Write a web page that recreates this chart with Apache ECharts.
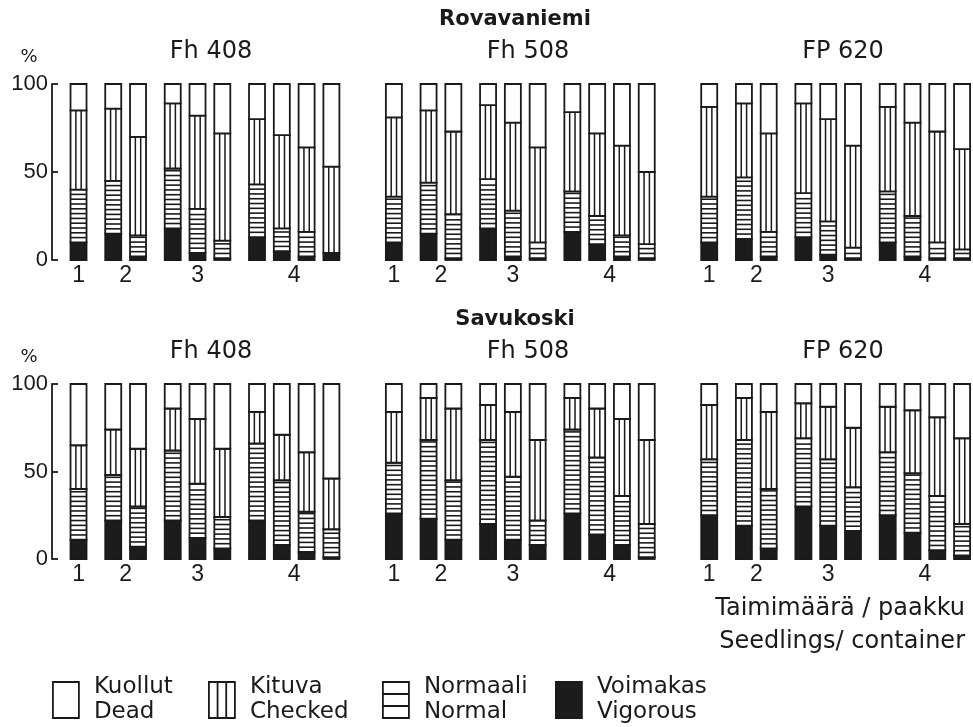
<!DOCTYPE html>
<html>
<head>
<meta charset="utf-8">
<script src="https://cdn.jsdelivr.net/npm/echarts@6/dist/echarts.min.js"></script>
<style>
  html, body { margin: 0; padding: 0; background: #fff; }
  #chart { width: 973px; height: 727px; }
</style>
</head>
<body>
<div id="chart"></div>
<script>
// Sites (one panel row each) and provenances (one bar group each)
const sites = ['Rovavaniemi', 'Savukoski'];
const provenances = ['Fh 408', 'Fh 508', 'FP 620'];
// Seedlings per container: a container with k seedlings gets k bars
const seedlingsPerContainer = ['1', '2', '3', '4'];
const yTicks = [0, 50, 100];

// Seedling condition classes, bottom to top of each bar
const classFi = ['Voimakas', 'Normaali', 'Kituva', 'Kuollut'];
const classEn = ['Vigorous', 'Normal', 'Checked', 'Dead'];

// Share of seedlings (%), bars in order Fh 408 | Fh 508 | FP 620, each 1,2,2,3,3,3,4,4,4,4
const rovaVigorous = [10, 15, 2, 18, 4, 1, 13, 5, 2, 4,   10, 15, 1, 18, 2, 1, 16, 9, 2, 1,   10, 12, 2, 13, 3, 1, 10, 2, 1, 1];
const rovaNormal   = [30, 30, 12, 34, 25, 10, 30, 13, 14, 0,   26, 29, 25, 28, 26, 9, 23, 16, 12, 8,   26, 35, 14, 25, 19, 6, 29, 23, 9, 5];
const rovaChecked  = [45, 41, 56, 37, 53, 61, 37, 53, 48, 49,   45, 41, 47, 42, 50, 54, 45, 47, 51, 41,   51, 42, 56, 51, 58, 58, 48, 53, 63, 57];
const rovaDead     = [15, 14, 30, 11, 18, 28, 20, 29, 36, 47,   19, 15, 27, 12, 22, 36, 16, 28, 35, 50,   13, 11, 28, 11, 20, 35, 13, 22, 27, 37];

const savuVigorous = [11, 22, 7, 22, 12, 6, 22, 8, 4, 1,   26, 23, 11, 20, 11, 8, 26, 14, 8, 1,   25, 19, 6, 30, 19, 16, 25, 15, 5, 2];
const savuNormal   = [29, 26, 23, 40, 31, 18, 44, 37, 23, 16,   29, 45, 34, 48, 36, 14, 48, 44, 28, 19,   32, 49, 34, 39, 38, 25, 36, 34, 31, 18];
const savuChecked  = [25, 26, 33, 24, 37, 39, 18, 26, 34, 29,   29, 24, 41, 20, 37, 46, 18, 28, 44, 48,   31, 24, 44, 20, 30, 34, 26, 36, 45, 49];
const savuDead     = [35, 26, 37, 14, 20, 37, 16, 29, 39, 54,   16, 8, 14, 12, 16, 32, 8, 14, 20, 32,   12, 8, 16, 11, 13, 25, 13, 15, 19, 31];

const siteData = [
  [rovaVigorous, rovaNormal, rovaChecked, rovaDead],
  [savuVigorous, savuNormal, savuChecked, savuDead]
];

// ---- drawing style ----
const INK = '#1a1a1a';
const FONT = 'DejaVu Sans';
const BAR_W = 16;
const EDGE = 1.8;
const STRIPE = 4.8;
const SUB_GAP = 1.4;      // spacing between container-size subgroups (in bar slots)
const GROUP_STEP = 12.72; // spacing between provenance groups (in bar slots)
const ROW_TOP = [84, 384];
const ROW_H = [176, 175];
const KINDS = ['vigorous', 'normal', 'checked', 'dead'];

// bar slot positions along the x axis, plus subgroup centres for the labels
const barX = [];
const labelX = [];
const labelText = [];
provenances.forEach((p, g) => {
  let start = 0;
  seedlingsPerContainer.forEach((s, k) => {
    const n = k + 1;
    for (let j = 0; j < n; j++) barX.push(g * GROUP_STEP + start + j);
    labelX.push(g * GROUP_STEP + start + (n - 1) / 2);
    labelText.push(s);
    start += n - 1 + SUB_GAP;
  });
});

function makeRenderer(kind) {
  return function (params, api) {
    const x = api.value(0), lo = api.value(1), hi = api.value(2);
    if (!(hi > lo)) return null;
    const b = api.coord([x, lo]);
    const t = api.coord([x, hi]);
    const w = BAR_W, left = b[0] - w / 2, top = t[1], h = b[1] - t[1];
    const children = [{
      type: 'rect',
      shape: { x: left, y: top, width: w, height: h },
      style: { fill: kind === 'vigorous' ? '#1c1c1c' : '#fff', stroke: INK, lineWidth: EDGE }
    }];
    if (kind === 'checked') {
      [1 / 3, 2 / 3].forEach(f => children.push({
        type: 'line',
        shape: { x1: left + w * f, y1: top, x2: left + w * f, y2: top + h },
        style: { stroke: INK, lineWidth: 1.5 }
      }));
    }
    if (kind === 'normal') {
      for (let y = b[1] - STRIPE; y > top + 1.5; y -= STRIPE) {
        children.push({
          type: 'line',
          shape: { x1: left, y1: y, x2: left + w, y2: y },
          style: { stroke: INK, lineWidth: 1.6 }
        });
      }
    }
    return { type: 'group', children };
  };
}

// subgroup caption drawn beneath the axis at each subgroup centre
function renderCaption(params, api) {
  const p = api.coord([api.value(0), 0]);
  return {
    type: 'text',
    x: p[0], y: p[1] + 4,
    style: {
      text: labelText[params.dataIndex],
      font: '23px "Liberation Sans"', fill: INK,
      textAlign: 'center', textVerticalAlign: 'top'
    }
  };
}

const grids = [], xAxes = [], yAxes = [], series = [];
sites.forEach((site, r) => {
  grids.push({ left: 52, right: 2, top: ROW_TOP[r], height: ROW_H[r] });
  xAxes.push({
    type: 'value', gridIndex: r, min: -1.07, max: 36.0,
    axisLine: { show: false }, axisTick: { show: false }, splitLine: { show: false },
    axisLabel: { show: false }
  });
  yAxes.push({
    type: 'value', gridIndex: r, min: yTicks[0], max: yTicks[yTicks.length - 1],
    interval: yTicks[1] - yTicks[0],
    axisLine: { show: true, onZero: false, lineStyle: { color: INK, width: 1.8 } },
    axisTick: { show: true, inside: true, length: 6, lineStyle: { color: INK, width: 1.8 } },
    splitLine: { show: false },
    axisLabel: { fontFamily: 'Liberation Sans', fontSize: 22, color: INK, margin: 4 }
  });
  const cols = siteData[r];
  KINDS.forEach((kind, c) => {
    const data = barX.map((x, i) => {
      let lo = 0;
      for (let q = 0; q < c; q++) lo += cols[q][i];
      return [x, lo, lo + cols[c][i]];
    });
    series.push({
      type: 'custom', name: classFi[c], xAxisIndex: r, yAxisIndex: r,
      encode: { x: 0, y: [1, 2] },
      renderItem: makeRenderer(kind),
      data, silent: true, animation: false
    });
  });
  series.push({
    type: 'custom', name: 'containerLabels', xAxisIndex: r, yAxisIndex: r,
    encode: { x: 0, y: 1 },
    renderItem: renderCaption,
    data: labelX.map(x => [x, 0]),
    silent: true, animation: false, clip: false
  });
});

// legend icons (26 x 36)
const icons = {
  Kuollut: 'path://M0,0H26V36H0Z',
  Kituva: 'path://M0,0H26V36H0Z M8.67,0V36 M17.33,0V36',
  Normaali: 'path://M0,0H26V36H0Z M0,12H26 M0,24H26',
  Voimakas: 'path://M0,0H26V36H0Z'
};
const legendOrder = [3, 2, 1, 0];
const legendLeft = [52, 208, 382, 555];
const legends = legendOrder.map((c, i) => ({
  left: legendLeft[i], top: 675, padding: 0, orient: 'horizontal',
  itemWidth: 26, itemHeight: 36, selectedMode: false,
  data: [{
    name: classFi[c],
    icon: icons[classFi[c]],
    itemStyle: { color: c === 0 ? '#1c1c1c' : '#fff', borderColor: INK, borderWidth: 1.8 }
  }],
  formatter: () => classFi[c] + '\n' + classEn[c],
  textStyle: { fontFamily: FONT, fontSize: 23, lineHeight: 25, color: INK, padding: [0, 0, 0, 10] }
}));

// headings
const graphics = [];
const titleX = [211, 528, 843];
sites.forEach((site, r) => {
  const dy = r * 300;
  graphics.push({ type: 'text', x: 515, y: 20 + dy,
    style: { text: site, font: 'bold 21px "DejaVu Sans"', fill: INK, textAlign: 'center', textVerticalAlign: 'middle' } });
  graphics.push({ type: 'text', x: 29, y: 57 + dy,
    style: { text: '%', font: '18px "DejaVu Sans"', fill: INK, textAlign: 'center', textVerticalAlign: 'middle' } });
  provenances.forEach((p, g) => graphics.push({ type: 'text', x: titleX[g], y: 52 + dy,
    style: { text: p, font: '24px "DejaVu Sans"', fill: INK, textAlign: 'center', textVerticalAlign: 'middle' } }));
});
graphics.push({ type: 'text', x: 965, y: 609,
  style: { text: 'Taimimäärä / paakku', font: '24px "DejaVu Sans"', fill: INK, textAlign: 'right', textVerticalAlign: 'middle' } });
graphics.push({ type: 'text', x: 965, y: 642,
  style: { text: 'Seedlings/ container', font: '24px "DejaVu Sans"', fill: INK, textAlign: 'right', textVerticalAlign: 'middle' } });

const chart = echarts.init(document.getElementById('chart'), null, { renderer: 'canvas' });
chart.setOption({
  backgroundColor: '#fff',
  animation: false,
  grid: grids,
  xAxis: xAxes,
  yAxis: yAxes,
  legend: legends,
  graphic: graphics,
  series
});
</script>
</body>
</html>
